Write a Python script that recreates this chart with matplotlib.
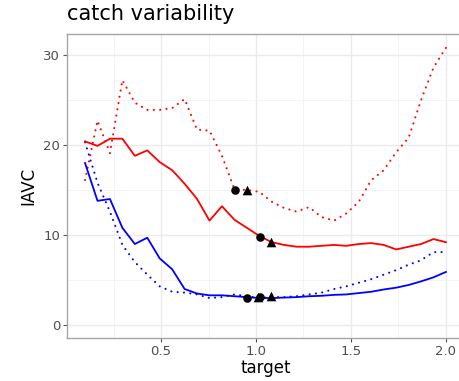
import numpy as np
import matplotlib
matplotlib.use("Agg")
import matplotlib.pyplot as plt
from matplotlib.ticker import MultipleLocator

target = np.linspace(0.1, 2.0, 30)

red_solid = [20.4, 19.9, 20.7, 20.7, 18.8, 19.4, 18.1, 17.2, 15.7, 14.0,
             11.6, 13.2, 11.7, 10.8, 9.9, 9.2, 8.9, 8.7, 8.7, 8.8,
             8.9, 8.8, 9.0, 9.1, 8.9, 8.4, 8.7, 9.0, 9.55, 9.2]
red_dotted = [16.1, 22.7, 19.1, 27.2, 24.7, 23.9, 23.9, 24.1, 25.1, 21.7,
              21.6, 18.8, 15.1, 15.0, 14.8, 13.7, 13.0, 12.6, 13.1, 12.0,
              11.6, 12.4, 13.7, 16.1, 17.2, 19.2, 20.8, 25.0, 28.6, 30.8]
blue_solid = [18.0, 13.8, 14.0, 10.8, 9.0, 9.7, 7.4, 6.2, 4.0, 3.5,
              3.3, 3.3, 3.2, 3.1, 3.0, 3.0, 3.05, 3.1, 3.2, 3.25,
              3.35, 3.4, 3.55, 3.7, 3.95, 4.15, 4.45, 4.85, 5.3, 5.9]
blue_dotted = [20.3, 15.8, 12.6, 8.9, 7.0, 5.6, 4.3, 3.7, 3.6, 3.4,
               3.0, 3.1, 3.4, 3.2, 3.0, 3.1, 3.1, 3.2, 3.4, 3.6,
               4.0, 4.3, 4.7, 5.1, 5.6, 6.1, 6.7, 7.2, 8.1, 8.1]

circle_x = [0.89, 1.02, 0.95, 1.02]
circle_y = [15.0, 9.8, 3.0, 3.1]
triangle_x = [0.95, 1.08, 1.01, 1.08]
triangle_y = [15.0, 9.2, 3.1, 3.2]

W, H = 460, 381
fig = plt.figure(figsize=(W / 100, H / 100), dpi=100)
ax = fig.add_axes([67 / W, (H - 338) / H, (464 - 67) / W, (338 - 34) / H])

ax.set_xlim(0.005, 2.095)
ax.set_ylim(-1.44, 32.33)

ax.xaxis.set_major_locator(MultipleLocator(0.5))
ax.xaxis.set_minor_locator(MultipleLocator(0.25))
ax.yaxis.set_major_locator(MultipleLocator(10))
ax.yaxis.set_minor_locator(MultipleLocator(5))
ax.grid(which="major", color="#ebebeb", lw=1.0)
ax.grid(which="minor", color="#f2f2f2", lw=0.6)
ax.set_axisbelow(True)
ax.tick_params(which="minor", length=0)
ax.tick_params(which="major", length=3, color="#555555", labelcolor="#4d4d4d",
               labelsize=9.5, width=0.8, pad=2)
ax.set_xticks([0.5, 1.0, 1.5, 2.0])
ax.set_xticklabels(["0.5", "1.0", "1.5", "2.0"])
for s in ax.spines.values():
    s.set_color("#a6a6a6")
    s.set_linewidth(1.0)

dot = (0, (0.05, 3.0))
ax.plot(target, red_dotted, color="#ff0000", lw=1.5, ls=dot, dash_capstyle="round")
ax.plot(target, blue_dotted, color="#0000ff", lw=1.5, ls=dot, dash_capstyle="round")
ax.plot(target, red_solid, color="#ff0000", lw=1.3)
ax.plot(target, blue_solid, color="#0000ff", lw=1.3)

ax.scatter(circle_x, circle_y, marker="o", s=38, color="black", zorder=5, linewidths=0)
ax.scatter(triangle_x, triangle_y, marker="^", s=48, color="black", zorder=5, linewidths=0)

ax.set_xlabel("target", fontsize=12, labelpad=1)
ax.set_ylabel("IAVC", fontsize=12, labelpad=4)
fig.text(67 / W, 1 - 14 / H, "catch variability", fontsize=15, ha="left", va="center")

fig.savefig("out.png", dpi=100)
